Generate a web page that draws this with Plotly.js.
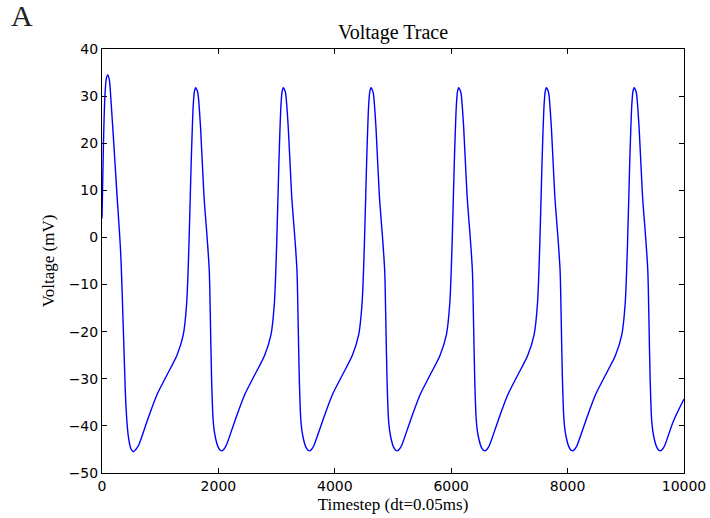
<!DOCTYPE html>
<html>
<head>
<meta charset="utf-8">
<script src="https://cdn.plot.ly/plotly-3.0.1.min.js"></script>
<style>html,body{margin:0;padding:0;background:#fff;}#chart{width:710px;height:518px;}</style>
</head>
<body>
<div id="chart"></div>
<script>
// Timestep values
const timestep = [
  0, 25, 50, 75, 98, 125, 160, 195, 252, 321, 367, 412, 453, 495, 538, 580, 629, 772, 944, 1116, 1288, 1396, 1453, 1494, 1533, 1568, 1588,
  1608, 1628, 1648, 1694, 1751, 1809, 1843, 1860, 1883, 1908, 1928, 1958, 1992, 2028, 2061, 2098, 2136, 2279, 2451, 2623, 2795, 2903, 2960, 3001, 3040, 3075, 3095,
  3115, 3135, 3155, 3201, 3258, 3316, 3350, 3367, 3390, 3415, 3435, 3465, 3499, 3535, 3568, 3605, 3643, 3786, 3958, 4130, 4302, 4410, 4467, 4508, 4547, 4582, 4602,
  4622, 4642, 4662, 4708, 4765, 4823, 4857, 4874, 4897, 4922, 4942, 4972, 5006, 5042, 5075, 5112, 5150, 5293, 5465, 5637, 5809, 5917, 5974, 6015, 6054, 6089, 6109,
  6129, 6149, 6169, 6215, 6272, 6330, 6364, 6381, 6404, 6429, 6449, 6479, 6513, 6549, 6582, 6619, 6657, 6800, 6972, 7144, 7316, 7424, 7481, 7522, 7561, 7596, 7616,
  7636, 7656, 7676, 7722, 7779, 7837, 7871, 7888, 7911, 7936, 7956, 7986, 8020, 8056, 8089, 8126, 8164, 8307, 8479, 8651, 8823, 8931, 8988, 9029, 9068, 9103, 9123,
  9143, 9163, 9183, 9229, 9286, 9344, 9378, 9395, 9418, 9443, 9463, 9493, 9527, 9563, 9596, 9633, 9671, 9814, 10000
];
// Voltage (mV) values
const voltage = [
  4.0, 20.0, 30.0, 33.8, 34.5, 33.5, 28.0, 21.4, 10.1, -3.3, -19.6, -35.9, -42.3, -44.8, -45.5, -45.0, -44.1, -39.1, -33.4, -29.2, -25.0, -20.7, -14.3, -1.6, 16.1, 28.1, 31.0,
  31.8, 31.4, 30.6, 23.2, 9.0, -0.5, -7.0, -16.0, -30.0, -38.5, -41.0, -43.0, -44.4, -45.1, -45.3, -44.9, -44.1, -39.1, -33.4, -29.2, -25.0, -20.7, -14.3, -1.6, 16.1, 28.1, 31.0,
  31.8, 31.4, 30.6, 23.2, 9.0, -0.5, -7.0, -16.0, -30.0, -38.5, -41.0, -43.0, -44.4, -45.1, -45.3, -44.9, -44.1, -39.1, -33.4, -29.2, -25.0, -20.7, -14.3, -1.6, 16.1, 28.1, 31.0,
  31.8, 31.4, 30.6, 23.2, 9.0, -0.5, -7.0, -16.0, -30.0, -38.5, -41.0, -43.0, -44.4, -45.1, -45.3, -44.9, -44.1, -39.1, -33.4, -29.2, -25.0, -20.7, -14.3, -1.6, 16.1, 28.1, 31.0,
  31.8, 31.4, 30.6, 23.2, 9.0, -0.5, -7.0, -16.0, -30.0, -38.5, -41.0, -43.0, -44.4, -45.1, -45.3, -44.9, -44.1, -39.1, -33.4, -29.2, -25.0, -20.7, -14.3, -1.6, 16.1, 28.1, 31.0,
  31.8, 31.4, 30.6, 23.2, 9.0, -0.5, -7.0, -16.0, -30.0, -38.5, -41.0, -43.0, -44.4, -45.1, -45.3, -44.9, -44.1, -39.1, -33.4, -29.2, -25.0, -20.7, -14.3, -1.6, 16.1, 28.1, 31.0,
  31.8, 31.4, 30.6, 23.2, 9.0, -0.5, -7.0, -16.0, -30.0, -38.5, -41.0, -43.0, -44.4, -45.1, -45.3, -44.9, -44.1, -39.1, -34.3
];
const xTicks = [0, 2000, 4000, 6000, 8000, 10000];
const yTicks = [-50, -40, -30, -20, -10, 0, 10, 20, 30, 40];

const trace = {
  x: timestep, y: voltage, type: 'scatter', mode: 'lines',
  line: {color: '#0000ff', width: 1.4, shape: 'spline', smoothing: 0.8},
  hoverinfo: 'skip'
};
const axisCommon = {
  showline: true, linecolor: '#000', linewidth: 1, mirror: 'allticks',
  ticks: 'inside', ticklen: 5, tickwidth: 1, tickcolor: '#000',
  showgrid: false, zeroline: false,
  tickfont: {family: 'DejaVu Sans, sans-serif', size: 14, color: '#000'}
};
const layout = {
  width: 710, height: 518,
  margin: {l: 102, r: 26, t: 49, b: 45},
  paper_bgcolor: '#fff', plot_bgcolor: '#fff',
  showlegend: false,
  title: {text: 'Voltage Trace', x: 0.5535, xanchor: 'center', yref: 'container', y: 0.938, yanchor: 'middle',
          font: {family: 'Liberation Serif, serif', size: 20, color: '#000'}},
  xaxis: Object.assign({}, axisCommon, {
    range: [0, 10000], tickvals: xTicks, ticktext: xTicks.map(String),
    title: {text: 'Timestep (dt=0.05ms)', standoff: 5, font: {family: 'Liberation Serif, serif', size: 17, color: '#000'}}
  }),
  yaxis: Object.assign({}, axisCommon, {
    range: [-50, 40], tickvals: yTicks, ticktext: yTicks.map(v => v < 0 ? '\u2212' + Math.abs(v) : String(v)),
    title: {text: 'Voltage (mV)', standoff: 9, font: {family: 'Liberation Serif, serif', size: 17, color: '#000'}}
  }),
  annotations: [{
    text: 'A', xref: 'paper', yref: 'paper', x: -0.137, y: 1.078, xanchor: 'center', yanchor: 'middle',
    showarrow: false, font: {family: 'Liberation Serif, serif', size: 30, color: '#222'}
  }]
};
Plotly.newPlot('chart', [trace], layout, {staticPlot: true, displayModeBar: false});
</script>
</body>
</html>
